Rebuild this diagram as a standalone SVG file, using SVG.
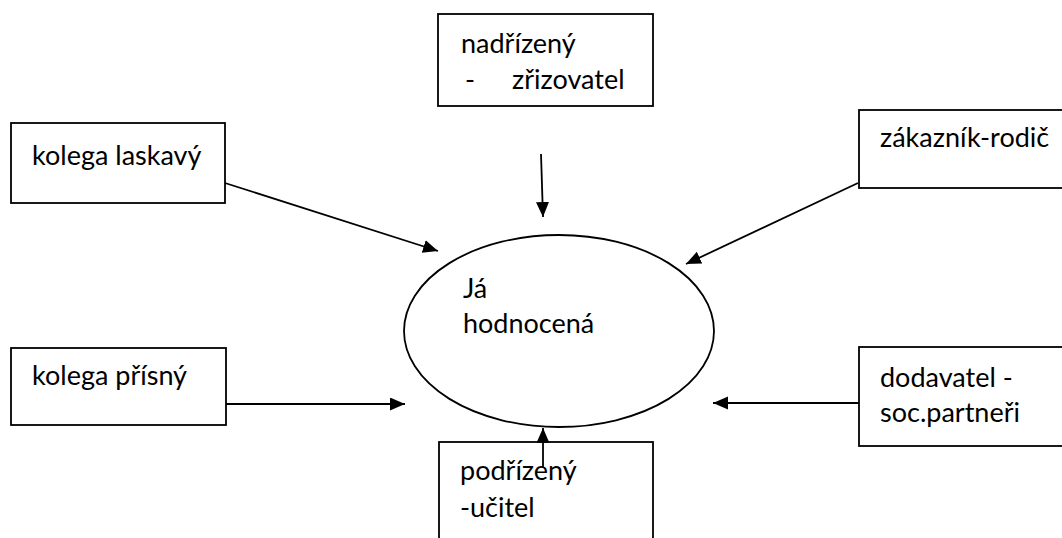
<svg xmlns="http://www.w3.org/2000/svg" width="1062" height="538" viewBox="0 0 1062 538">
<style>
.box{fill:#fff;stroke:#000;stroke-width:1.8}
.t{font-family:Lato,"Open Sans","Liberation Sans",sans-serif;font-size:27px;fill:#000}
.c{stroke:#000;stroke-width:1.8;fill:none;marker-end:url(#ah)}
</style>
<defs>
<marker id="ah" markerUnits="userSpaceOnUse" markerWidth="16" markerHeight="14" refX="15" refY="6.5" orient="auto">
<path d="M0,0 L15,6.5 L0,13 Z" fill="#000"/>
</marker>
</defs>
<rect width="1062" height="538" fill="#fff"/>
<g id="center">
<ellipse cx="559" cy="331" rx="155" ry="96" fill="#fff" stroke="#000" stroke-width="1.8"/>
<text class="t" x="463" y="298">Já</text>
<text class="t" x="463" y="333">hodnocená</text>
</g>
<g id="nadrizeny">
<rect class="box" x="438" y="14" width="215" height="92"/>
<text class="t" x="461" y="53">nadřízený</text>
<text class="t" x="465" y="89">-</text>
<text class="t" x="512" y="89">zřizovatel</text>
</g>
<g id="kolega-laskavy">
<rect class="box" x="11" y="123" width="214" height="80"/>
<text class="t" x="32" y="165">kolega laskavý</text>
</g>
<g id="zakaznik">
<rect class="box" x="859" y="110" width="210" height="78"/>
<text class="t" x="880" y="147">zákazník-rodič</text>
</g>
<g id="kolega-prisny">
<rect class="box" x="11" y="348" width="215" height="77"/>
<text class="t" x="32" y="385">kolega přísný</text>
</g>
<g id="dodavatel">
<rect class="box" x="859" y="347" width="210" height="99"/>
<text class="t" x="880" y="387">dodavatel -</text>
<text class="t" x="880" y="422">soc.partneři</text>
</g>
<g id="podrizeny">
<rect class="box" x="439" y="442" width="214" height="110"/>
<text class="t" x="460" y="480">podřízený</text>
<text class="t" x="460" y="517">-učitel</text>
</g>
<g id="connectors">
<line class="c" x1="541" y1="154" x2="543" y2="217"/>
<line class="c" x1="225" y1="183" x2="438" y2="251"/>
<line class="c" x1="858" y1="183" x2="686" y2="264"/>
<line class="c" x1="226" y1="404" x2="405" y2="404"/>
<line class="c" x1="859" y1="403" x2="713" y2="403"/>
<line class="c" x1="543" y1="467" x2="543" y2="428"/>
</g>
</svg>
